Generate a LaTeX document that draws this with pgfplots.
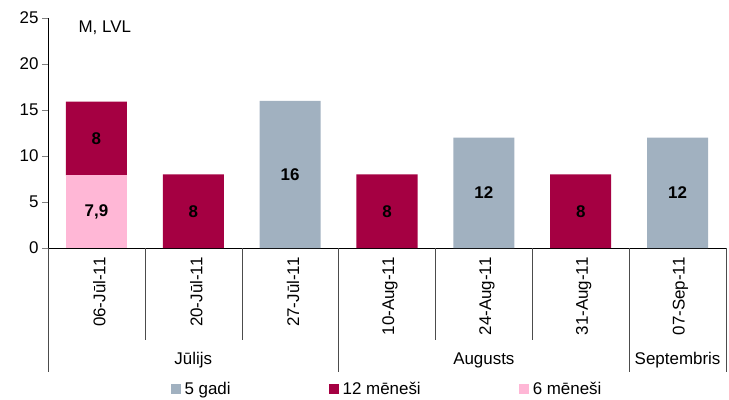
\documentclass[border=0pt]{standalone}
\usepackage{fontspec}
\setmainfont{Liberation Sans}
\usepackage{pgfplots}
\pgfplotsset{compat=1.18}
\definecolor{gadi}{RGB}{161,177,192}
\definecolor{menA}{RGB}{165,0,66}
\definecolor{menB}{RGB}{255,183,214}
\newcommand{\fs}{\fontsize{17}{20}\selectfont}
\pgfplotsset{sq/.style={legend image code/.code={\fill[##1] (0bp,-5bp) rectangle (10bp,5bp);}}}

\begin{document}
\begin{tikzpicture}
\useasboundingbox (-48bp,-152bp) rectangle (681bp,248bp);
\begin{axis}[
    scale only axis, width=678bp, height=230bp,
    ybar stacked, bar width=0.63,
    xmin=-0.5, xmax=6.5, ymin=0, ymax=25,
    ytick={0,5,...,25},
    xtick={0,...,6},
    xticklabels={06-Jūl-11,20-Jūl-11,27-Jūl-11,10-Aug-11,24-Aug-11,31-Aug-11,07-Sep-11},
    axis lines*=left,
    tick align=outside, major tick length=6bp,
    x tick style={draw=none},
    xticklabel style={rotate=90, anchor=east, yshift=-3bp},
    tick label style={font=\fs},
    /pgf/number format/assume math mode=true,
    clip=false,
    point meta=explicit symbolic,
    nodes near coords,
    every node near coord/.append style={font=\fs\bfseries, anchor=center},
    legend style={at={(0.5,-0.565)}, anchor=north, legend columns=3, draw=none,
        font=\fs, /tikz/every even column/.append style={column sep=96bp},
        /tikz/every odd column/.append style={column sep=2bp}},
    reverse legend,
]
\addplot[fill=menB, draw=none, sq] coordinates {
(0,7.9) [7,9] (1,0) [] (2,0) [] (3,0) [] (4,0) [] (5,0) [] (6,0) []
};
\addplot[fill=menA, draw=none, sq] coordinates {
(0,8) [8] (1,8) [8] (2,0) [] (3,8) [8] (4,0) [] (5,8) [8] (6,0) []
};
\addplot[fill=gadi, draw=none, sq] coordinates {
(0,0) [] (1,0) [] (2,16) [16] (3,0) [] (4,12) [12] (5,0) [] (6,12) [12]
};
\legend{6 mēneši,12 mēneši,5 gadi}
\pgfplotsinvokeforeach{0.5,1.5,3.5,4.5}{
  \draw[black!70] (axis cs:#1,0) -- ++(0bp,-92bp);}
\pgfplotsinvokeforeach{-0.5,2.5,5.5,6.5}{
  \draw[black!70] (axis cs:#1,0) -- ++(0bp,-124bp);}
\node[font=\fs] at (axis cs:1,0) [yshift=-112bp] {Jūlijs};
\node[font=\fs] at (axis cs:4,0) [yshift=-112bp] {Augusts};
\node[font=\fs] at (axis cs:6,0) [yshift=-112bp] {Septembris};
\node[font=\fs, anchor=west] at (rel axis cs:0.04,0.957) {M, LVL};
\end{axis}
\end{tikzpicture}
\end{document}
